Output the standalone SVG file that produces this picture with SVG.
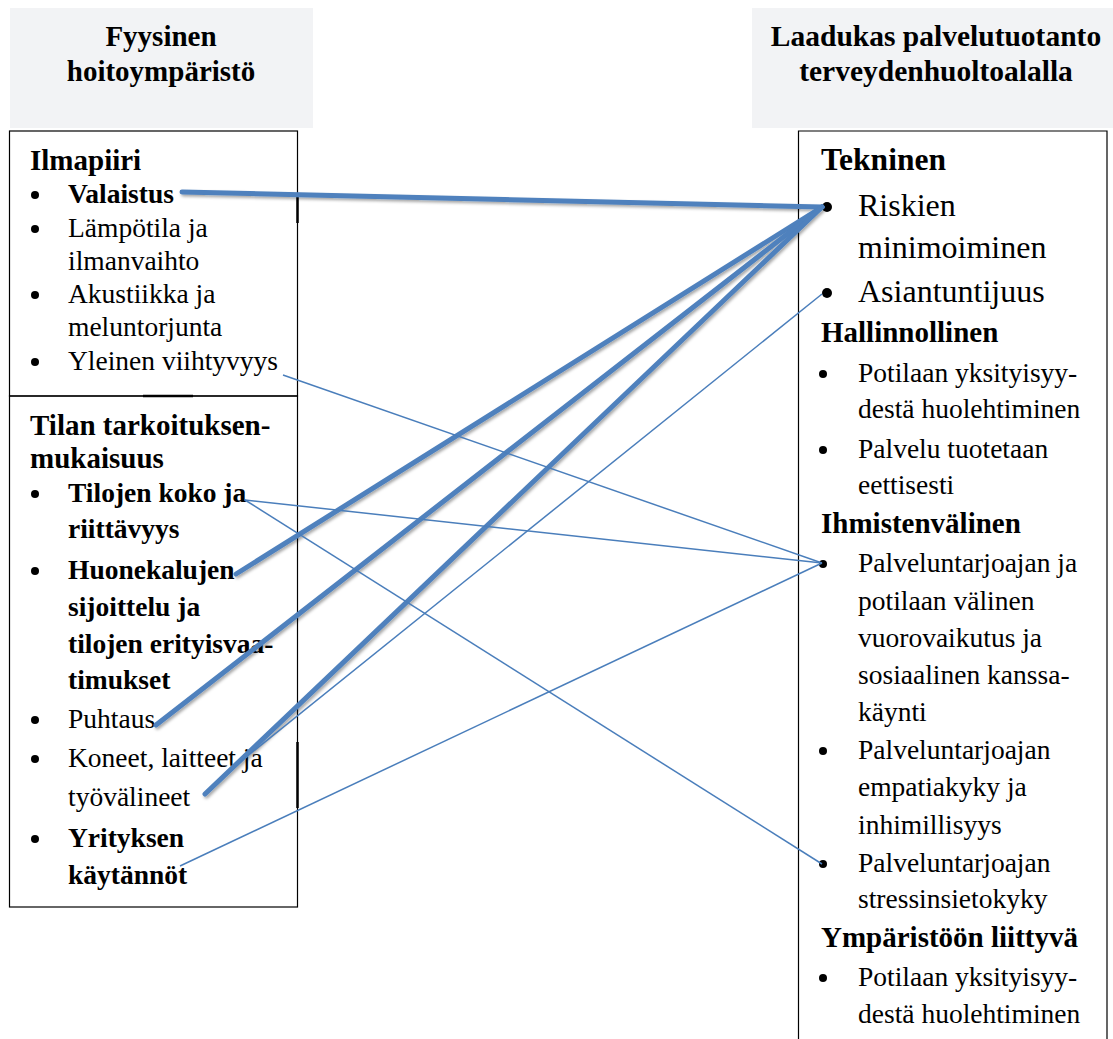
<svg xmlns="http://www.w3.org/2000/svg" width="1113" height="1039" viewBox="0 0 1113 1039">
<style>
text{font-family:"Liberation Serif","Times New Roman",serif;fill:#000}
.hd{font-size:29px;font-weight:bold}
.hh{font-size:29.5px;font-weight:bold}
.bi{font-size:27.5px;font-weight:bold}
.rg{font-size:27.5px}
.lg{font-size:32px}
.ctr{text-anchor:middle}
.box{fill:none;stroke:#000;stroke-width:1.2}
.thick{stroke:#4f81bd;stroke-width:5;stroke-linecap:round;fill:none}
.thin{stroke:#4a7ebb;stroke-width:1.5;fill:none}
.dot{fill:#000}
</style>
<defs>
<filter id="sh" x="-5%" y="-5%" width="110%" height="110%">
<feDropShadow dx="1.5" dy="2" stdDeviation="1.5" flood-color="#000" flood-opacity="0.35"/>
</filter>
</defs>
<rect width="1113" height="1039" fill="#fff"/>

<g id="header-left">
<rect x="10" y="8" width="303" height="120" fill="#f2f3f5"/>
<text class="hd ctr" x="161" y="46">Fyysinen</text>
<text class="hd ctr" x="161" y="81">hoitoympäristö</text>
</g>

<g id="header-right">
<rect x="752" y="8" width="361" height="120" fill="#f2f3f5"/>
<text class="hh ctr" x="936" y="46">Laadukas palvelutuotanto</text>
<text class="hh ctr" x="936" y="81">terveydenhuoltoalalla</text>
</g>

<g id="ilmapiiri">
<rect class="box" x="9.5" y="131" width="288" height="265"/>
<line x1="297.5" y1="197" x2="297.5" y2="223" stroke="#000" stroke-width="2.5"/>
<text class="hd" x="30" y="170">Ilmapiiri</text>
<circle class="dot" cx="35" cy="195" r="4"/>
<text class="bi" x="68" y="203">Valaistus</text>
<circle class="dot" cx="35" cy="229" r="4"/>
<text class="rg" x="68" y="237">Lämpötila ja</text>
<text class="rg" x="68" y="270">ilmanvaihto</text>
<circle class="dot" cx="35" cy="295" r="4"/>
<text class="rg" x="68" y="303">Akustiikka ja</text>
<text class="rg" x="68" y="336">meluntorjunta</text>
<circle class="dot" cx="35" cy="362" r="4"/>
<text class="rg" x="68" y="370">Yleinen viihtyvyys</text>
</g>

<g id="tilan-tarkoituksenmukaisuus">
<rect class="box" x="9.5" y="396" width="288" height="511"/>
<line x1="143" y1="396" x2="193" y2="396" stroke="#000" stroke-width="2.5"/>
<line x1="297.5" y1="742" x2="297.5" y2="808" stroke="#000" stroke-width="2.5"/>
<text class="hd" x="30" y="435">Tilan tarkoituksen-</text>
<text class="hd" x="30" y="468">mukaisuus</text>
<circle class="dot" cx="35" cy="494" r="4"/>
<text class="bi" x="68" y="502">Tilojen koko ja</text>
<text class="bi" x="68" y="538">riittävyys</text>
<circle class="dot" cx="35" cy="571" r="4"/>
<text class="bi" x="68" y="579">Huonekalujen</text>
<text class="bi" x="68" y="616">sijoittelu ja</text>
<text class="bi" x="68" y="653">tilojen erityisvaa-</text>
<text class="bi" x="68" y="689">timukset</text>
<circle class="dot" cx="35" cy="720" r="4"/>
<text class="rg" x="68" y="728">Puhtaus</text>
<circle class="dot" cx="35" cy="759" r="4"/>
<text class="rg" x="68" y="767">Koneet, laitteet ja</text>
<text class="rg" x="68" y="806">työvälineet</text>
<circle class="dot" cx="35" cy="839" r="4"/>
<text class="bi" x="68" y="847">Yrityksen</text>
<text class="bi" x="68" y="884">käytännöt</text>
</g>

<g id="laadukas-palvelutuotanto">
<path class="box" d="M798.5 1040 V131 H1107 V1040"/>
<text class="hd" x="821" y="170" style="font-size:31.5px">Tekninen</text>
<circle class="dot" cx="827" cy="207" r="5"/>
<text class="lg" x="858" y="216">Riskien</text>
<text class="lg" x="858" y="258">minimoiminen</text>
<circle class="dot" cx="827" cy="293" r="5"/>
<text class="lg" x="858" y="302">Asiantuntijuus</text>
<text class="hd" x="821" y="342">Hallinnollinen</text>
<circle class="dot" cx="823" cy="374" r="4"/>
<text class="rg" x="858" y="382">Potilaan yksityisyy-</text>
<text class="rg" x="858" y="418">destä huolehtiminen</text>
<circle class="dot" cx="823" cy="450" r="4"/>
<text class="rg" x="858" y="458">Palvelu tuotetaan</text>
<text class="rg" x="858" y="494">eettisesti</text>
<text class="hd" x="821" y="533">Ihmistenvälinen</text>
<circle class="dot" cx="823" cy="564" r="4"/>
<text class="rg" x="858" y="572">Palveluntarjoajan ja</text>
<text class="rg" x="858" y="610">potilaan välinen</text>
<text class="rg" x="858" y="647">vuorovaikutus ja</text>
<text class="rg" x="858" y="684">sosiaalinen kanssa-</text>
<text class="rg" x="858" y="721">käynti</text>
<circle class="dot" cx="823" cy="751" r="4"/>
<text class="rg" x="858" y="759">Palveluntarjoajan</text>
<text class="rg" x="858" y="796">empatiakyky ja</text>
<text class="rg" x="858" y="834">inhimillisyys</text>
<circle class="dot" cx="823" cy="864" r="4"/>
<text class="rg" x="858" y="872">Palveluntarjoajan</text>
<text class="rg" x="858" y="908">stressinsietokyky</text>
<text class="hd" x="821" y="947">Ympäristöön liittyvä</text>
<circle class="dot" cx="823" cy="978" r="4"/>
<text class="rg" x="858" y="986">Potilaan yksityisyy-</text>
<text class="rg" x="858" y="1023">destä huolehtiminen</text>
</g>

<g id="connectors">
<g filter="url(#sh)">
<line class="thick" x1="182" y1="192" x2="822" y2="207"/>
<line class="thick" x1="236" y1="574" x2="822" y2="207"/>
<line class="thick" x1="156" y1="725" x2="822" y2="207"/>
<line class="thick" x1="205" y1="794" x2="822" y2="207"/>
</g>
<line class="thin" x1="283" y1="375" x2="822" y2="563"/>
<line class="thin" x1="245" y1="500" x2="822" y2="563"/>
<line class="thin" x1="245" y1="500" x2="822" y2="864"/>
<line class="thin" x1="240" y1="762" x2="822" y2="294"/>
<line class="thin" x1="180" y1="866" x2="822" y2="563"/>
</g>
</svg>
